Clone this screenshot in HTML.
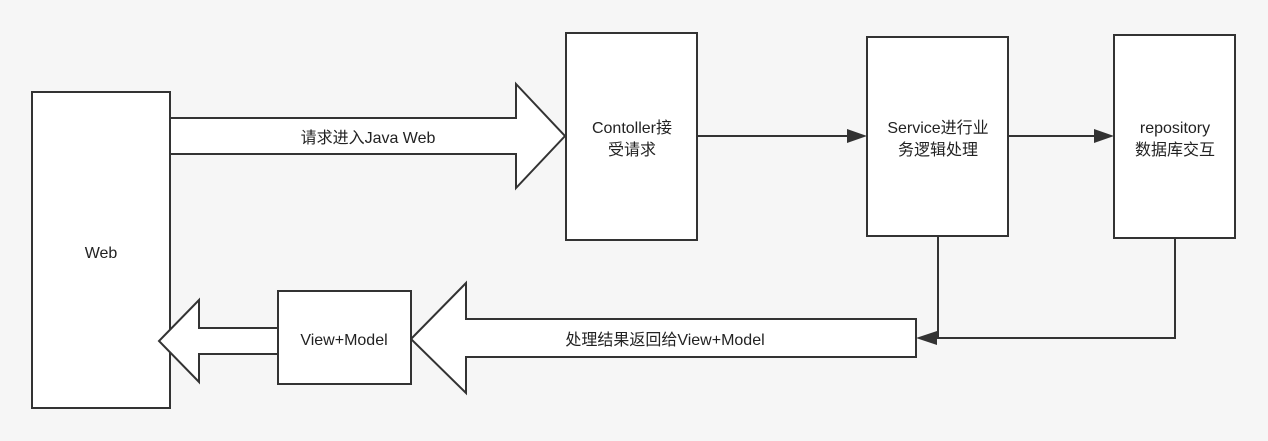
<!DOCTYPE html>
<html><head><meta charset="utf-8"><style>
html,body{margin:0;padding:0;background:#f6f6f6;}
svg{display:block;}
text{font-family:"Liberation Sans","Noto Sans CJK SC",sans-serif;font-size:16px;fill:#222;text-anchor:middle;}
</style></head><body>
<svg width="1268" height="441" viewBox="0 0 1268 441" xmlns="http://www.w3.org/2000/svg">
<rect width="1268" height="441" fill="#f6f6f6"/>
<g stroke="#333" stroke-width="2" fill="#fff">
<rect x="32" y="92" width="138" height="316"/>
<polygon points="170,118 516,118 516,84 565,136 516,188 516,154 170,154"/>
<rect x="566" y="33" width="131" height="207"/>
<rect x="867" y="37" width="141" height="199"/>
<rect x="1114" y="35" width="121" height="203"/>
<polygon points="916,319 466,319 466,283 411,339 466,393 466,357 916,357"/>
<rect x="278" y="291" width="133" height="93"/>
<polygon points="278,328 199,328 199,300 159,341 199,382 199,354 278,354"/>
</g>
<g stroke="#333" stroke-width="2" fill="none">
<line x1="697" y1="136" x2="850" y2="136"/>
<line x1="1008" y1="136" x2="1097" y2="136"/>
<polyline points="938,236 938,338"/>
<polyline points="1175,238 1175,338 934,338"/>
</g>
<g fill="#333">
<polygon points="867,136 847,129 847,143"/>
<polygon points="1114,136 1094,129 1094,143"/>
<polygon points="916,338 937,331 937,345"/>
</g>
<text x="101" y="258">Web</text>
<text x="368" y="143">请求进入Java Web</text>
<text x="632" y="133">Contoller接</text>
<text x="632" y="155">受请求</text>
<text x="938" y="133">Service进行业</text>
<text x="938" y="155">务逻辑处理</text>
<text x="1175" y="133">repository</text>
<text x="1175" y="155">数据库交互</text>
<text x="344" y="345">View+Model</text>
<text x="665" y="345">处理结果返回给View+Model</text>
</svg>
</body></html>
